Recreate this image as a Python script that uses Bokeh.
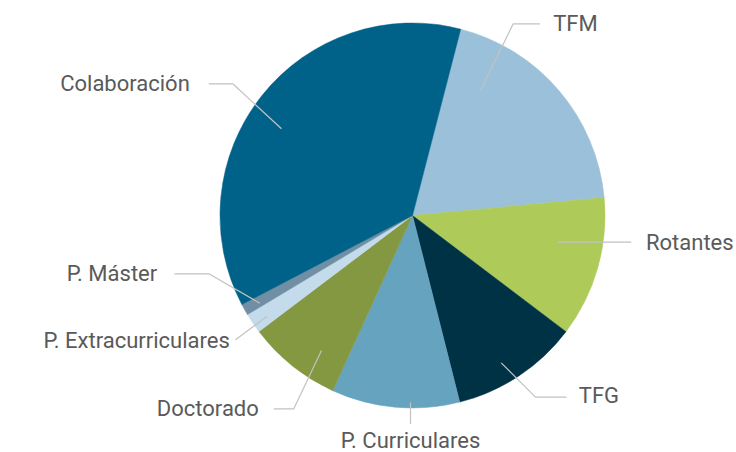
import math
from bokeh.plotting import figure
from bokeh.models import Range1d, ColumnDataSource
from bokeh.core.properties import value
from bokeh.embed import file_html
from bokeh.resources import INLINE

# ---- data (percent shares, clockwise from the TFM slice) ----
categories = ["TFM", "Rotantes", "TFG", "P. Curriculares", "Doctorado",
              "P. Extracurriculares", "P. Máster", "Colaboración"]
shares = [19.5, 11.8, 10.75, 10.75, 7.9, 1.7, 0.95, 36.7]
colors = ["#9BC0DA", "#AECB5A", "#003246", "#66A3BE", "#839840",
          "#C3DBEB", "#708FA4", "#006289"]

# ---- layout (canvas pixels, y downward) ----
W, H = 736, 452
CX, CY, R = 412, 215, 192.5
START_DEG = 14.5  # clockwise from 12 o'clock

# leader lines and label anchors in canvas pixels
leaders = {
    "TFM": [(480, 90), (512.7, 23.3), (539.3, 23.3)],
    "Rotantes": [(557.7, 241.7), (630.7, 241.7)],
    "TFG": [(500.7, 362.3), (535, 396.7), (566, 396.7)],
    "P. Curriculares": [(410, 401.7), (410, 423.3)],
    "Doctorado": [(321, 350), (293.3, 408.3), (273.3, 408.3)],
    "P. Extracurriculares": [(266.7, 315.7), (235, 339.3)],
    "P. Máster": [(259.3, 302.7), (208.3, 273.3), (174, 273.3)],
    "Colaboración": [(281, 128.3), (232.3, 83.3), (208.3, 83.3)],
}
label_pos = {
    "TFM": (552.7, 23.3, "left"),
    "Rotantes": (645.5, 241.5, "left"),
    "TFG": (578.3, 394.5, "left"),
    "P. Curriculares": (410, 440, "center"),
    "Doctorado": (258.3, 408.3, "right"),
    "P. Extracurriculares": (229.3, 340, "right"),
    "P. Máster": (156.7, 273.3, "right"),
    "Colaboración": (189.3, 82.5, "right"),
}


def fy(py):
    return H - py


p = figure(width=W, height=H, output_backend="svg", toolbar_location=None,
           x_range=Range1d(0, W), y_range=Range1d(0, H), min_border=0)
p.axis.visible = False
p.grid.visible = False
p.outline_line_color = None
p.background_fill_color = "white"

total = sum(shares)
starts, ends = [], []
acc = 0.0
for s in shares:
    t1 = START_DEG + 360.0 * acc / total
    acc += s
    t2 = START_DEG + 360.0 * acc / total
    # convert clockwise-from-top to math angles (anticlockwise from +x)
    starts.append(math.radians(90 - t2))
    ends.append(math.radians(90 - t1))

src = ColumnDataSource(dict(cat=categories, share=shares, color=colors,
                            start=starts, end=ends))
p.wedge(x=CX, y=fy(CY), radius=R, start_angle="start", end_angle="end",
        direction="anticlock", fill_color="color", line_color="color",
        line_width=0.5, source=src)

xs = [[pt[0] for pt in leaders[c]] for c in categories]
ys = [[fy(pt[1]) for pt in leaders[c]] for c in categories]
p.multi_line(xs=xs, ys=ys, line_color="#C2C2C2", line_width=1.2)

for c in categories:
    x, y, al = label_pos[c]
    p.text(x=[x], y=[fy(y)], text=[c], text_align=al, text_baseline="middle",
           text_font=value("Roboto"), text_font_size="22px",
           text_color="#5A5A5A")

open("out.html", "w").write(file_html(p, INLINE))
